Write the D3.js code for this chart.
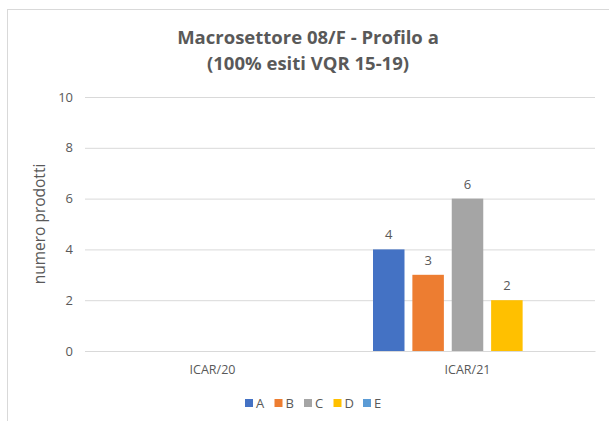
<!DOCTYPE html>
<html>
<head>
<meta charset="utf-8">
<script src="https://cdn.jsdelivr.net/npm/d3@7"></script>
<style>
  body { margin: 0; background: #fff; }
  text { font-family: "Open Sans", sans-serif; fill: #595959; }
</style>
</head>
<body>
<script>
/* Data */
var categories = ["ICAR/20", "ICAR/21"],
	series = ["A", "B", "C", "D", "E"],
	colors = ["#4472C4", "#ED7D31", "#A5A5A5", "#FFC000", "#5B9BD5"],
	values = [ // one row per category, one column per series (null = no value)
		[null, null, null, null, null],
		[4, 3, 6, 2, null]
	],
	yTicks = [0, 2, 4, 6, 8, 10],
	titleLines = ["Macrosettore 08/F - Profilo a", "(100% esiti VQR 15-19)"];

/* Display setup */
var displayArea = {width: 609, height: 421},
	plot = {left: 85, right: 595, top: 97, bottom: 351},
	svg = d3.select("body").append("svg")
		.attr("width", displayArea.width)
		.attr("height", displayArea.height);

// chart frame (runs off the right and bottom of the picture)
svg.append("rect")
	.attr("x", 7.5).attr("y", 9.5)
	.attr("width", 640).attr("height", 440)
	.style("fill", "white").style("stroke", "#d9d9d9");

var x0 = d3.scaleBand().domain(categories).range([plot.left, plot.right]),
	x1 = d3.scaleBand().domain(series)
		.range([33, x0.bandwidth() - 33])
		.paddingInner(0.2),
	y = d3.scaleLinear().domain([0, 10]).range([plot.bottom, plot.top]);

/* Title */
svg.append("g").selectAll("text")
	.data(titleLines)
	.enter().append("text")
		.attr("x", 308)
		.attr("y", function(d, i) { return 44 + i * 26; })
		.attr("text-anchor", "middle")
		.style("font-size", "18.5px")
		.style("font-weight", "bold")
		.text(function(d) { return d; });

/* Grid and y axis */
var yAxis = svg.append("g")
	.attr("transform", "translate(" + plot.left + ",0)")
	.call(d3.axisLeft(y).tickValues(yTicks).tickSize(-(plot.right - plot.left)).tickPadding(12));
yAxis.select(".domain").remove();
yAxis.selectAll(".tick line").style("stroke", "#d9d9d9");
yAxis.selectAll(".tick text").style("font-size", "13px").style("font-family", null);

svg.append("text")
	.attr("transform", "translate(45," + 224 + ") rotate(-90)")
	.attr("text-anchor", "middle")
	.style("font-size", "15.5px")
	.text("numero prodotti");

/* Category axis */
var xAxis = svg.append("g")
	.attr("transform", "translate(0," + plot.bottom + ")")
	.call(d3.axisBottom(x0).tickSize(0).tickPadding(14));
xAxis.select(".domain").style("stroke", "#d9d9d9");
xAxis.selectAll(".tick text").style("font-size", "12.5px").style("font-family", null);

/* Bars */
var group = svg.append("g").selectAll("g")
	.data(values)
	.enter().append("g")
		.attr("transform", function(d, i) { return "translate(" + x0(categories[i]) + ",0)"; });

var cells = group.selectAll("g")
	.data(function(d) { return d.map(function(v, j) { return {s: series[j], v: v, c: colors[j]}; })
		.filter(function(e) { return e.v !== null; }); })
	.enter().append("g");

cells.append("rect")
	.attr("x", function(d) { return x1(d.s); })
	.attr("y", function(d) { return y(d.v); })
	.attr("width", x1.bandwidth())
	.attr("height", function(d) { return y(0) - y(d.v); })
	.style("fill", function(d) { return d.c; });

cells.append("text")
	.attr("x", function(d) { return x1(d.s) + x1.bandwidth() / 2; })
	.attr("y", function(d) { return y(d.v) - 10; })
	.attr("text-anchor", "middle")
	.style("font-size", "13px")
	.text(function(d) { return d.v; });

/* Legend */
var legend = svg.append("g").selectAll("g")
	.data(series)
	.enter().append("g")
		.attr("transform", function(d, i) { return "translate(" + (245 + i * 29.5) + ",399)"; });
legend.append("rect")
	.attr("width", 8).attr("height", 8)
	.style("fill", function(d, i) { return colors[i]; });
legend.append("text")
	.attr("x", 11).attr("y", 9)
	.style("font-size", "13px")
	.text(function(d) { return d; });
</script>
</body>
</html>
